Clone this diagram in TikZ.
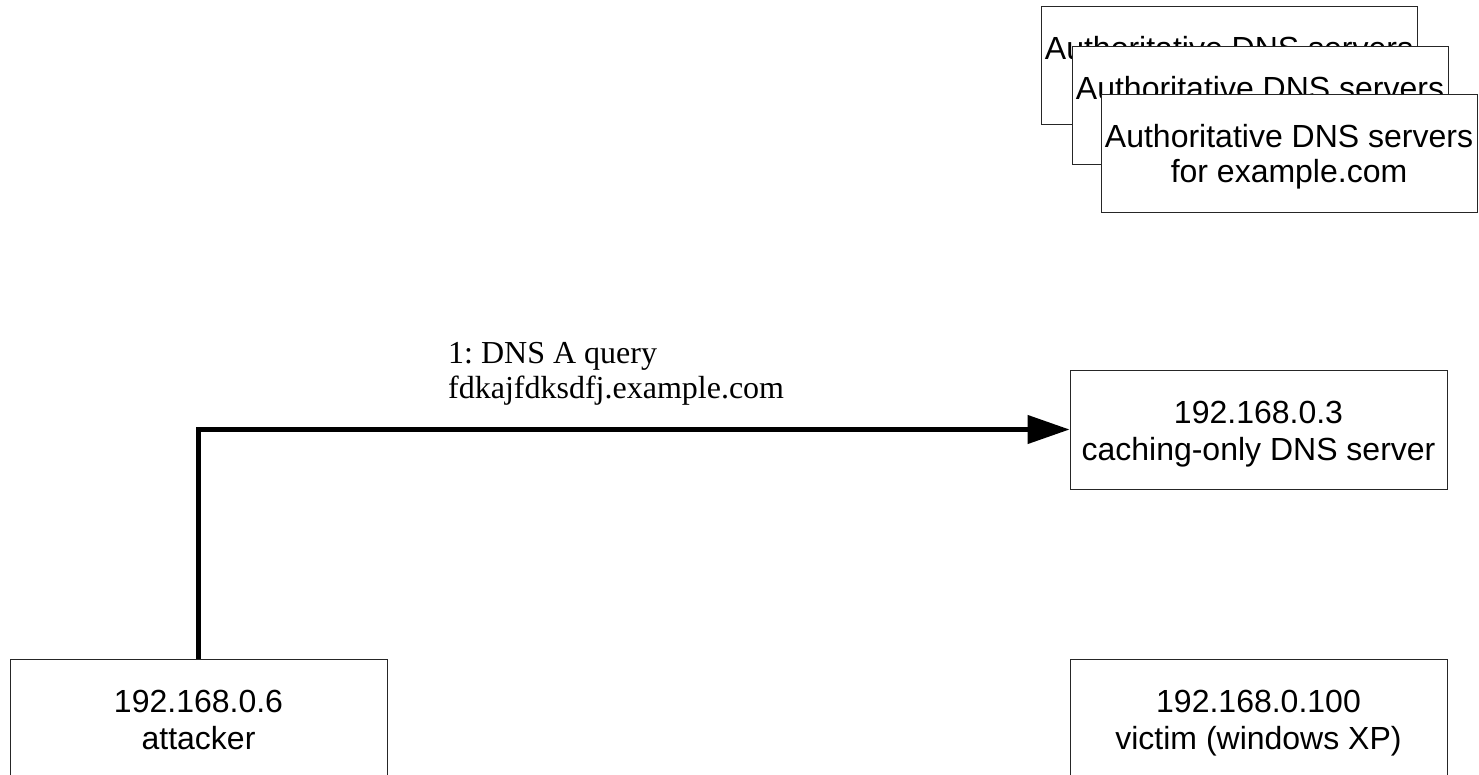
\documentclass[tikz,border=0pt]{standalone}
\usepackage{fontspec}
\setmainfont{Liberation Serif}
\setsansfont{Liberation Sans}
\usetikzlibrary{arrows.meta}

% uniform line struts so two-line box texts sit at the same height
\newcommand\hoststrut{\rule[-6pt]{0pt}{37pt}}
\newcommand\authstrut{\rule[-4pt]{0pt}{33pt}}

\tikzset{
  hostbox/.style={draw=black!85, line width=1pt, fill=white, rectangle,
    minimum width=377pt, minimum height=119pt, inner sep=0pt,
    align=center, font=\sffamily\fontsize{32}{37}\selectfont},
  authbox/.style={hostbox, minimum width=376pt, minimum height=118pt,
    font=\sffamily\fontsize{32}{35}\selectfont},
  querylabel/.style={inner sep=0pt, align=left, anchor=south west,
    font=\rmfamily\frenchspacing\fontsize{32}{35}\selectfont},
  flow/.style={line width=4.5pt, -{Triangle[length=42pt, width=28pt]}}
}

\begin{document}
\begin{tikzpicture}[x=1pt, y=-1pt]
  \useasboundingbox (0,0) rectangle (1479,775);

  % stacked authoritative servers
  \node[authbox] (auth1) at (1229,66)
    {\authstrut Authoritative DNS servers\\\authstrut for example.com};
  \node[authbox] (auth2) at (1260,106)
    {\authstrut Authoritative DNS servers\\\authstrut for example.com};
  \node[authbox] (auth3) at (1289,153.5)
    {\authstrut Authoritative DNS servers\\\authstrut for example.com};

  % hosts
  \node[hostbox] (cache) at (1258.5,429.5)
    {\hoststrut 192.168.0.3\\\hoststrut caching-only DNS server};
  \node[hostbox] (attacker) at (198.5,718.5)
    {\hoststrut 192.168.0.6\\\hoststrut attacker};
  \node[hostbox] (victim) at (1258.5,718.5)
    {\hoststrut 192.168.0.100\\\hoststrut victim (windows XP)};

  % step 1: query from the attacker to the caching server
  \draw[flow] (attacker.north) |- (cache.west);
  \node[querylabel] (q1) at (448,406) {1: DNS A query\\fdkajfdksdfj.example.com};
\end{tikzpicture}
\end{document}
